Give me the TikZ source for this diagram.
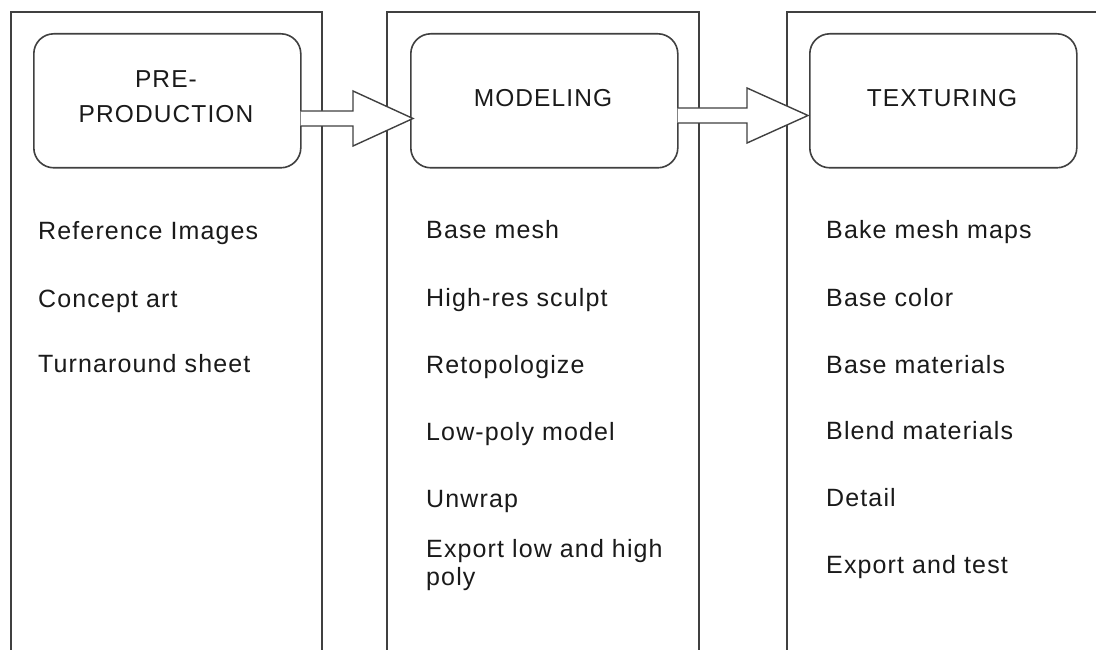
\documentclass[tikz,border=0pt]{standalone}
\usepackage{fontspec}
\setmainfont{Liberation Sans}[LetterSpace=4.5]
\usetikzlibrary{calc}
\definecolor{ln}{HTML}{404040}
\definecolor{tx}{HTML}{1A1A1A}
\tikzset{
  col/.style={draw=ln, line width=1.6pt},
  stage/.style={draw=ln, line width=1.6pt, rounded corners=20pt, minimum width=267pt, minimum height=134pt, inner sep=0pt, anchor=north west},
  ttl/.style={font=\fontsize{24.5}{35}\selectfont, text=tx, align=center, anchor=base},
  item/.style={font=\fontsize{25}{28}\selectfont, text=tx, anchor=base west, inner sep=0pt, align=left}
}
\tikzset{fat/.style={draw=ln, line width=1.4pt, fill=white, line join=miter}}
\begin{document}
\begin{tikzpicture}[x=1pt,y=-1pt]
\useasboundingbox (0,0) rectangle (1096,650);
\clip (0,0) rectangle (1096,650);
\fill[white] (0,0) rectangle (1096,650);
% columns
\draw[col] (11,700) -- (11,12) -- (322,12) -- (322,700);
\draw[col] (387,700) -- (387,12) -- (699,12) -- (699,700);
\draw[col] (787,700) -- (787,12) -- (1110,12);
% stage boxes
\node[stage] (b1) at (33,33) {};
\node[stage] (b2) at (410,33) {};
\node[stage] (b3) at (809,33) {};
\node[ttl] (t1) at (166,88) {PRE-};
\node[ttl] (t1b) at (166,123) {PRODUCTION};
\node[ttl] (t2) at (543,107) {MODELING};
\node[ttl] (t3) at (942,107) {TEXTURING};
% arrows
\coordinate (s1) at (b1.east |- 0,118.5);
\coordinate (e1) at (b2.west |- 0,118.5);
\coordinate (s2) at (b2.east |- 0,115.5);
\coordinate (e2) at (b3.west |- 0,115.5);
\draw[fat] ($(s1)+(-1,-7.5)$) -- ($(e1)+(-57,-7.5)$) -- ($(e1)+(-57,-27.5)$) -- ($(e1)+(3,0)$)
  -- ($(e1)+(-57,27.5)$) -- ($(e1)+(-57,7.5)$) -- ($(s1)+(-1,7.5)$);
\draw[fat] ($(s2)+(-1,-7.5)$) -- ($(e2)+(-62,-7.5)$) -- ($(e2)+(-62,-27.5)$) -- ($(e2)+(-1,0)$)
  -- ($(e2)+(-62,27.5)$) -- ($(e2)+(-62,7.5)$) -- ($(s2)+(-1,7.5)$);
% items column 1
\node[item] (p1) at (38,240) {Reference Images};
\node[item] (p2) at (38,307) {Concept art};
\node[item] (p3) at (38,372) {Turnaround sheet};
% items column 2
\node[item] (m1) at (426,239) {Base mesh};
\node[item] (m2) at (426,306) {High-res sculpt};
\node[item] (m3) at (426,373) {Retopologize};
\node[item] (m4) at (426,440) {Low-poly model};
\node[item] (m5) at (426,507) {Unwrap};
\node[item] (m6) at (426,585) {Export low and high\\poly};
% items column 3
\node[item] (x1) at (826,239) {Bake mesh maps};
\node[item] (x2) at (826,306) {Base color};
\node[item] (x3) at (826,373) {Base materials};
\node[item] (x4) at (826,439) {Blend materials};
\node[item] (x5) at (826,506) {Detail};
\node[item] (x6) at (826,573) {Export and test};
\end{tikzpicture}
\end{document}
